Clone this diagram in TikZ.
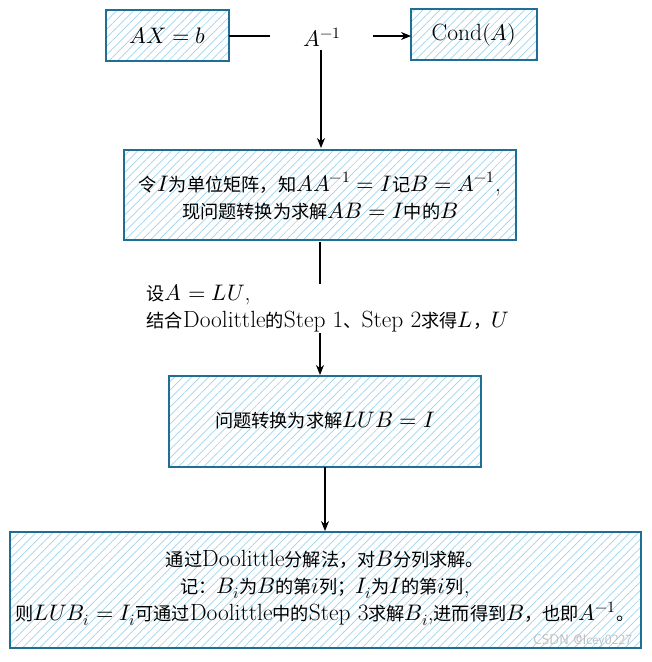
\documentclass[tikz,border=0pt]{standalone}
\usepackage{fontspec}
\usepackage{unicode-math}
\setmainfont{Latin Modern Roman}[Scale=1.38]
\setmathfont{Latin Modern Math}[Scale=1.32]
\newfontfamily\cjk{Noto Sans CJK SC}[Scale=1.07]
\usetikzlibrary{arrows.meta,patterns.meta}
\definecolor{boxline}{HTML}{1F6E96}
\definecolor{hatch}{HTML}{9FD3EA}
\newcommand{\zh}[1]{{\cjk #1}}
\tikzset{
  hbox/.style={draw=boxline, line width=1.3pt,
    pattern={Lines[angle=45,distance=6pt,line width=0.7pt]}, pattern color=hatch},
  conn/.style={line width=1.1pt, black},
  arr/.style={conn, -{Stealth[length=10pt,width=8pt]}},
  lbl/.style={font=\fontsize{17}{27}\selectfont, align=center}
}
\begin{document}
\begin{tikzpicture}[x=1pt,y=-1pt]
\useasboundingbox (0,0) rectangle (652,662);
% boxes
\draw[hbox] (106,10) rectangle (229,61);
\node[lbl] (axb) at (167.5,35.5) {$AX=b$};
\draw[hbox] (411,9) rectangle (537,60);
\node[lbl] (cond) at (474,34.5) {$\mathrm{Cond}(A)$};
\node[lbl] (ainv) at (322,37) {$A^{-1}$};
\coordinate (l1a) at (229,36);
\coordinate (l1b) at (270,36);
\coordinate (l2a) at (373,36);
\coordinate (l2b) at (411,36);
\draw[conn] (l1a) -- (l1b);
\draw[arr] (l2a) -- (l2b);

\draw[hbox] (124,150) rectangle (516,240);
\node[lbl] (b2) at (320,196) {\zh{令}$I$\zh{为单位矩阵，知}$AA^{-1}=I$\zh{记}$B=A^{-1}$,\\\zh{现问题转换为求解}$AB=I$\zh{中的}$B$};
\coordinate (v1a) at (321,50);
\coordinate (v1b) at (321,148);
\draw[arr] (v1a) -- (v1b);

\node[lbl, align=left, anchor=west] (lu) at (142,308) {\zh{设}$A=LU$,\\\zh{结合}Doolittle\zh{的}Step 1\zh{、}Step 2\zh{求得}$L$\zh{，}$U$};
\coordinate (v2a) at (320,242);
\coordinate (v2b) at (320,284);
\draw[conn] (v2a) -- (v2b);
\coordinate (v3a) at (320,333);
\coordinate (v3b) at (320,375);
\draw[arr] (v3a) -- (v3b);

\draw[hbox] (169,376) rectangle (481,467);
\node[lbl] (b3) at (325,421) {\zh{问题转换为求解}$LUB=I$};
\coordinate (v4a) at (325,467);
\coordinate (v4b) at (325,531);
\draw[arr] (v4a) -- (v4b);

\draw[hbox] (10,532) rectangle (641,648);
\node[lbl] (b4) at (325,588) {\zh{通过}Doolittle\zh{分解法，对}$B$\zh{分列求解。}\\
\zh{记：}$B_i$\zh{为}$B$\zh{的第}$i$\zh{列；}$I_i$\zh{为}$I$\zh{的第}$i$\zh{列},\\
\zh{则}$LUB_i=I_i$\zh{可通过}Doolittle\zh{中的}Step 3\zh{求解}$B_i$,\zh{进而得到}$B$\zh{，也即}$A^{-1}$\zh{。}};
\node[font=\fontsize{14}{16}\selectfont\sffamily, text=black!25, anchor=east] (wm) at (637,641) {CSDN @Icey0227};
\end{tikzpicture}
\end{document}
